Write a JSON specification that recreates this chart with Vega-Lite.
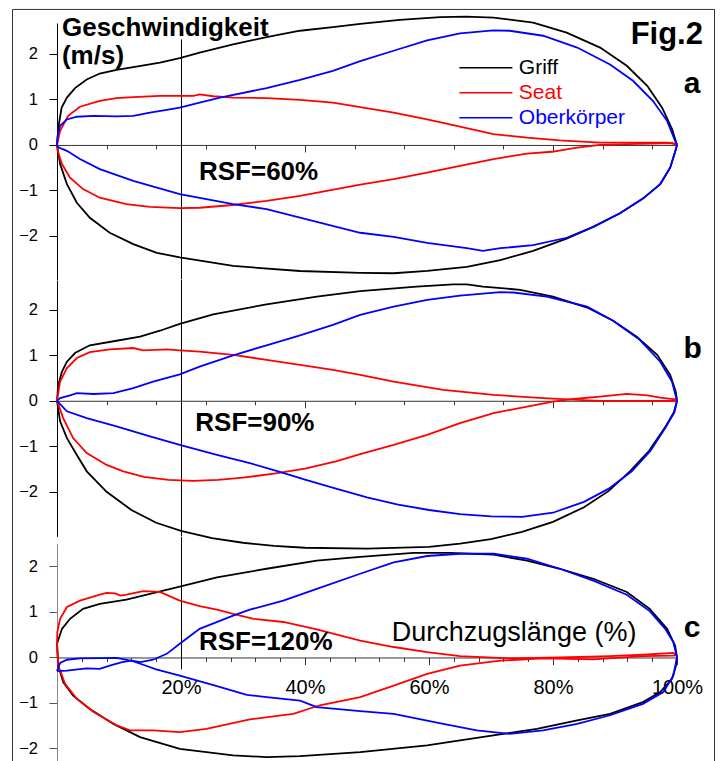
{
"$schema": "https://vega.github.io/schema/vega-lite/v6.json",
"background": "white",
"padding": {"left": 12, "top": 8, "right": 0, "bottom": 0},
"config": {"view": {"stroke": null}, "font": "Liberation Sans", "axis": {"labelFont": "Liberation Sans", "labelColor": "#000", "grid": false}, "legend": {"labelFont": "Liberation Sans"}},
"datasets": {
"a": [
{"s":"Griff","h":"d","x":0,"y":0},{"s":"Griff","h":"d","x":0.3,"y":0.45},{"s":"Griff","h":"d","x":0.75,"y":0.82},{"s":"Griff","h":"d","x":1.6,"y":1.04},{"s":"Griff","h":"d","x":2.9,"y":1.25},{"s":"Griff","h":"d","x":4.8,"y":1.44},{"s":"Griff","h":"d","x":6.9,"y":1.57},{"s":"Griff","h":"d","x":9.6,"y":1.65},{"s":"Griff","h":"d","x":12.3,"y":1.71},{"s":"Griff","h":"d","x":16.6,"y":1.81},{"s":"Griff","h":"d","x":19.8,"y":1.91},{"s":"Griff","h":"d","x":23,"y":2.03},{"s":"Griff","h":"d","x":28.4,"y":2.21},{"s":"Griff","h":"d","x":33.8,"y":2.37},{"s":"Griff","h":"d","x":39.2,"y":2.51},{"s":"Griff","h":"d","x":44.5,"y":2.59},{"s":"Griff","h":"d","x":48.9,"y":2.66},{"s":"Griff","h":"d","x":55.3,"y":2.75},{"s":"Griff","h":"d","x":61.8,"y":2.81},{"s":"Griff","h":"d","x":66,"y":2.82},{"s":"Griff","h":"d","x":70.4,"y":2.8},{"s":"Griff","h":"d","x":76.8,"y":2.69},{"s":"Griff","h":"d","x":82.2,"y":2.47},{"s":"Griff","h":"d","x":87.6,"y":2.14},{"s":"Griff","h":"d","x":91.9,"y":1.74},{"s":"Griff","h":"d","x":95.2,"y":1.3},{"s":"Griff","h":"d","x":97.6,"y":0.82},{"s":"Griff","h":"d","x":99.2,"y":0.35},{"s":"Griff","h":"d","x":100,"y":0},
{"s":"Griff","h":"r","x":0,"y":0},{"s":"Griff","h":"r","x":0.5,"y":-0.42},{"s":"Griff","h":"r","x":1.6,"y":-0.86},{"s":"Griff","h":"r","x":3.2,"y":-1.27},{"s":"Griff","h":"r","x":5.3,"y":-1.6},{"s":"Griff","h":"r","x":8.5,"y":-1.93},{"s":"Griff","h":"r","x":12.3,"y":-2.18},{"s":"Griff","h":"r","x":16.1,"y":-2.37},{"s":"Griff","h":"r","x":19.8,"y":-2.47},{"s":"Griff","h":"r","x":28.4,"y":-2.66},{"s":"Griff","h":"r","x":39.2,"y":-2.77},{"s":"Griff","h":"r","x":48.9,"y":-2.81},{"s":"Griff","h":"r","x":54.3,"y":-2.82},{"s":"Griff","h":"r","x":59.7,"y":-2.77},{"s":"Griff","h":"r","x":66.1,"y":-2.68},{"s":"Griff","h":"r","x":71.5,"y":-2.53},{"s":"Griff","h":"r","x":76.8,"y":-2.33},{"s":"Griff","h":"r","x":82.2,"y":-2.06},{"s":"Griff","h":"r","x":86.5,"y":-1.8},{"s":"Griff","h":"r","x":90.8,"y":-1.5},{"s":"Griff","h":"r","x":94.5,"y":-1.18},{"s":"Griff","h":"r","x":97.3,"y":-0.86},{"s":"Griff","h":"r","x":98.9,"y":-0.5},{"s":"Griff","h":"r","x":99.7,"y":-0.15},{"s":"Griff","h":"r","x":100,"y":0},
{"s":"Seat","h":"d","x":0,"y":0},{"s":"Seat","h":"d","x":0.5,"y":0.31},{"s":"Seat","h":"d","x":1.8,"y":0.64},{"s":"Seat","h":"d","x":3.7,"y":0.84},{"s":"Seat","h":"d","x":6.9,"y":0.97},{"s":"Seat","h":"d","x":9.6,"y":1.03},{"s":"Seat","h":"d","x":12.3,"y":1.05},{"s":"Seat","h":"d","x":16.6,"y":1.08},{"s":"Seat","h":"d","x":22,"y":1.08},{"s":"Seat","h":"d","x":23,"y":1.11},{"s":"Seat","h":"d","x":25.2,"y":1.07},{"s":"Seat","h":"d","x":28.4,"y":1.04},{"s":"Seat","h":"d","x":33.8,"y":1.03},{"s":"Seat","h":"d","x":39.2,"y":0.99},{"s":"Seat","h":"d","x":44.5,"y":0.93},{"s":"Seat","h":"d","x":48.9,"y":0.83},{"s":"Seat","h":"d","x":54.3,"y":0.71},{"s":"Seat","h":"d","x":59.7,"y":0.56},{"s":"Seat","h":"d","x":65,"y":0.4},{"s":"Seat","h":"d","x":70.4,"y":0.24},{"s":"Seat","h":"d","x":75.8,"y":0.16},{"s":"Seat","h":"d","x":81.1,"y":0.1},{"s":"Seat","h":"d","x":87.6,"y":0.05},{"s":"Seat","h":"d","x":94.5,"y":0.05},{"s":"Seat","h":"d","x":98.4,"y":0.05},{"s":"Seat","h":"d","x":99.4,"y":0.04},{"s":"Seat","h":"d","x":100,"y":0},
{"s":"Seat","h":"r","x":0,"y":0},{"s":"Seat","h":"r","x":0.1,"y":-0.13},{"s":"Seat","h":"r","x":0.8,"y":-0.42},{"s":"Seat","h":"r","x":2.1,"y":-0.72},{"s":"Seat","h":"r","x":4.2,"y":-0.97},{"s":"Seat","h":"r","x":6.9,"y":-1.16},{"s":"Seat","h":"r","x":11.2,"y":-1.3},{"s":"Seat","h":"r","x":15,"y":-1.36},{"s":"Seat","h":"r","x":19.8,"y":-1.39},{"s":"Seat","h":"r","x":23,"y":-1.38},{"s":"Seat","h":"r","x":28.4,"y":-1.32},{"s":"Seat","h":"r","x":33.8,"y":-1.23},{"s":"Seat","h":"r","x":39.2,"y":-1.12},{"s":"Seat","h":"r","x":48.9,"y":-0.87},{"s":"Seat","h":"r","x":54.3,"y":-0.75},{"s":"Seat","h":"r","x":59.7,"y":-0.61},{"s":"Seat","h":"r","x":65,"y":-0.46},{"s":"Seat","h":"r","x":70.4,"y":-0.31},{"s":"Seat","h":"r","x":75.8,"y":-0.19},{"s":"Seat","h":"r","x":79.8,"y":-0.15},{"s":"Seat","h":"r","x":83.9,"y":-0.06},{"s":"Seat","h":"r","x":87.6,"y":0},{"s":"Seat","h":"r","x":92,"y":0.02},{"s":"Seat","h":"r","x":96,"y":0.03},{"s":"Seat","h":"r","x":99,"y":0.04},{"s":"Seat","h":"r","x":100,"y":0},
{"s":"Oberkörper","h":"d","x":0,"y":0},{"s":"Oberkörper","h":"d","x":0.1,"y":0.2},{"s":"Oberkörper","h":"d","x":0.5,"y":0.42},{"s":"Oberkörper","h":"d","x":1.6,"y":0.56},{"s":"Oberkörper","h":"d","x":3.2,"y":0.62},{"s":"Oberkörper","h":"d","x":5.9,"y":0.64},{"s":"Oberkörper","h":"d","x":9.6,"y":0.63},{"s":"Oberkörper","h":"d","x":12.3,"y":0.64},{"s":"Oberkörper","h":"d","x":15,"y":0.71},{"s":"Oberkörper","h":"d","x":17.7,"y":0.77},{"s":"Oberkörper","h":"d","x":19.8,"y":0.82},{"s":"Oberkörper","h":"d","x":23,"y":0.93},{"s":"Oberkörper","h":"d","x":26.3,"y":1.04},{"s":"Oberkörper","h":"d","x":33.8,"y":1.25},{"s":"Oberkörper","h":"d","x":39.2,"y":1.43},{"s":"Oberkörper","h":"d","x":44.5,"y":1.63},{"s":"Oberkörper","h":"d","x":48.9,"y":1.84},{"s":"Oberkörper","h":"d","x":54.3,"y":2.07},{"s":"Oberkörper","h":"d","x":59.7,"y":2.3},{"s":"Oberkörper","h":"d","x":65,"y":2.45},{"s":"Oberkörper","h":"d","x":70.4,"y":2.52},{"s":"Oberkörper","h":"d","x":73,"y":2.51},{"s":"Oberkörper","h":"d","x":78.4,"y":2.4},{"s":"Oberkörper","h":"d","x":83.9,"y":2.14},{"s":"Oberkörper","h":"d","x":89.2,"y":1.77},{"s":"Oberkörper","h":"d","x":92.9,"y":1.41},{"s":"Oberkörper","h":"d","x":96.1,"y":0.97},{"s":"Oberkörper","h":"d","x":98.4,"y":0.53},{"s":"Oberkörper","h":"d","x":99.7,"y":0.09},{"s":"Oberkörper","h":"d","x":100,"y":0},
{"s":"Oberkörper","h":"r","x":0,"y":0},{"s":"Oberkörper","h":"r","x":0.2,"y":-0.05},{"s":"Oberkörper","h":"r","x":1.6,"y":-0.13},{"s":"Oberkörper","h":"r","x":3.7,"y":-0.31},{"s":"Oberkörper","h":"r","x":6.9,"y":-0.53},{"s":"Oberkörper","h":"r","x":12.3,"y":-0.79},{"s":"Oberkörper","h":"r","x":19.8,"y":-1.08},{"s":"Oberkörper","h":"r","x":28.4,"y":-1.3},{"s":"Oberkörper","h":"r","x":33.8,"y":-1.41},{"s":"Oberkörper","h":"r","x":39.2,"y":-1.6},{"s":"Oberkörper","h":"r","x":48.9,"y":-1.93},{"s":"Oberkörper","h":"r","x":54.3,"y":-2.02},{"s":"Oberkörper","h":"r","x":59.7,"y":-2.15},{"s":"Oberkörper","h":"r","x":66.1,"y":-2.27},{"s":"Oberkörper","h":"r","x":68.7,"y":-2.33},{"s":"Oberkörper","h":"r","x":71.5,"y":-2.27},{"s":"Oberkörper","h":"r","x":76.8,"y":-2.2},{"s":"Oberkörper","h":"r","x":82.2,"y":-2.04},{"s":"Oberkörper","h":"r","x":86.5,"y":-1.8},{"s":"Oberkörper","h":"r","x":90.8,"y":-1.5},{"s":"Oberkörper","h":"r","x":94.5,"y":-1.18},{"s":"Oberkörper","h":"r","x":97.3,"y":-0.86},{"s":"Oberkörper","h":"r","x":98.9,"y":-0.5},{"s":"Oberkörper","h":"r","x":99.7,"y":-0.15},{"s":"Oberkörper","h":"r","x":100,"y":0}
],
"b": [
{"s":"Griff","h":"d","x":0,"y":0},{"s":"Griff","h":"d","x":0.2,"y":0.35},{"s":"Griff","h":"d","x":0.8,"y":0.64},{"s":"Griff","h":"d","x":1.6,"y":0.86},{"s":"Griff","h":"d","x":2.9,"y":1.05},{"s":"Griff","h":"d","x":5.3,"y":1.22},{"s":"Griff","h":"d","x":9.6,"y":1.32},{"s":"Griff","h":"d","x":13.4,"y":1.41},{"s":"Griff","h":"d","x":16.6,"y":1.54},{"s":"Griff","h":"d","x":19.8,"y":1.69},{"s":"Griff","h":"d","x":25.2,"y":1.9},{"s":"Griff","h":"d","x":33.8,"y":2.12},{"s":"Griff","h":"d","x":41.9,"y":2.29},{"s":"Griff","h":"d","x":48.9,"y":2.41},{"s":"Griff","h":"d","x":58,"y":2.51},{"s":"Griff","h":"d","x":63.9,"y":2.56},{"s":"Griff","h":"d","x":66.1,"y":2.56},{"s":"Griff","h":"d","x":68.7,"y":2.51},{"s":"Griff","h":"d","x":74.7,"y":2.44},{"s":"Griff","h":"d","x":80,"y":2.29},{"s":"Griff","h":"d","x":85.5,"y":2.05},{"s":"Griff","h":"d","x":89.7,"y":1.76},{"s":"Griff","h":"d","x":93.5,"y":1.41},{"s":"Griff","h":"d","x":96.8,"y":1.01},{"s":"Griff","h":"d","x":98.9,"y":0.57},{"s":"Griff","h":"d","x":99.8,"y":0.2},{"s":"Griff","h":"d","x":100,"y":0},
{"s":"Griff","h":"r","x":0,"y":0},{"s":"Griff","h":"r","x":0.5,"y":-0.45},{"s":"Griff","h":"r","x":1.6,"y":-0.82},{"s":"Griff","h":"r","x":3.2,"y":-1.19},{"s":"Griff","h":"r","x":4.8,"y":-1.55},{"s":"Griff","h":"r","x":8,"y":-2},{"s":"Griff","h":"r","x":12,"y":-2.4},{"s":"Griff","h":"r","x":16,"y":-2.68},{"s":"Griff","h":"r","x":20,"y":-2.86},{"s":"Griff","h":"r","x":25,"y":-3.02},{"s":"Griff","h":"r","x":30,"y":-3.12},{"s":"Griff","h":"r","x":35,"y":-3.19},{"s":"Griff","h":"r","x":40,"y":-3.23},{"s":"Griff","h":"r","x":50,"y":-3.25},{"s":"Griff","h":"r","x":60,"y":-3.21},{"s":"Griff","h":"r","x":65,"y":-3.14},{"s":"Griff","h":"r","x":70,"y":-3.04},{"s":"Griff","h":"r","x":75,"y":-2.88},{"s":"Griff","h":"r","x":80,"y":-2.66},{"s":"Griff","h":"r","x":85,"y":-2.34},{"s":"Griff","h":"r","x":89,"y":-1.98},{"s":"Griff","h":"r","x":92.4,"y":-1.55},{"s":"Griff","h":"r","x":95.5,"y":-1.1},{"s":"Griff","h":"r","x":98,"y":-0.6},{"s":"Griff","h":"r","x":99.5,"y":-0.25},{"s":"Griff","h":"r","x":100,"y":0},
{"s":"Seat","h":"d","x":0,"y":0},{"s":"Seat","h":"d","x":0.5,"y":0.42},{"s":"Seat","h":"d","x":1.6,"y":0.72},{"s":"Seat","h":"d","x":3.2,"y":0.94},{"s":"Seat","h":"d","x":5.3,"y":1.07},{"s":"Seat","h":"d","x":8.5,"y":1.13},{"s":"Seat","h":"d","x":12.3,"y":1.16},{"s":"Seat","h":"d","x":13.9,"y":1.11},{"s":"Seat","h":"d","x":17.7,"y":1.13},{"s":"Seat","h":"d","x":19.8,"y":1.11},{"s":"Seat","h":"d","x":23,"y":1.08},{"s":"Seat","h":"d","x":28.4,"y":1.01},{"s":"Seat","h":"d","x":33.8,"y":0.9},{"s":"Seat","h":"d","x":39.2,"y":0.79},{"s":"Seat","h":"d","x":44.5,"y":0.68},{"s":"Seat","h":"d","x":48.9,"y":0.57},{"s":"Seat","h":"d","x":54.3,"y":0.42},{"s":"Seat","h":"d","x":62.3,"y":0.24},{"s":"Seat","h":"d","x":70.4,"y":0.13},{"s":"Seat","h":"d","x":78.4,"y":0.06},{"s":"Seat","h":"d","x":83.9,"y":0.02},{"s":"Seat","h":"d","x":87.6,"y":0},{"s":"Seat","h":"d","x":94.5,"y":0},{"s":"Seat","h":"d","x":100,"y":0},
{"s":"Seat","h":"r","x":0,"y":0},{"s":"Seat","h":"r","x":1,"y":-0.38},{"s":"Seat","h":"r","x":2.6,"y":-0.82},{"s":"Seat","h":"r","x":4.8,"y":-1.15},{"s":"Seat","h":"r","x":8,"y":-1.41},{"s":"Seat","h":"r","x":10.7,"y":-1.55},{"s":"Seat","h":"r","x":14,"y":-1.67},{"s":"Seat","h":"r","x":18,"y":-1.74},{"s":"Seat","h":"r","x":22,"y":-1.76},{"s":"Seat","h":"r","x":26,"y":-1.74},{"s":"Seat","h":"r","x":30,"y":-1.69},{"s":"Seat","h":"r","x":35,"y":-1.6},{"s":"Seat","h":"r","x":40,"y":-1.49},{"s":"Seat","h":"r","x":45,"y":-1.33},{"s":"Seat","h":"r","x":48.9,"y":-1.17},{"s":"Seat","h":"r","x":54.3,"y":-0.97},{"s":"Seat","h":"r","x":59.7,"y":-0.75},{"s":"Seat","h":"r","x":65,"y":-0.49},{"s":"Seat","h":"r","x":70.4,"y":-0.27},{"s":"Seat","h":"r","x":75.8,"y":-0.13},{"s":"Seat","h":"r","x":80,"y":-0.02},{"s":"Seat","h":"r","x":83.3,"y":0.04},{"s":"Seat","h":"r","x":87.6,"y":0.09},{"s":"Seat","h":"r","x":91.9,"y":0.15},{"s":"Seat","h":"r","x":95.2,"y":0.12},{"s":"Seat","h":"r","x":97.3,"y":0.07},{"s":"Seat","h":"r","x":99.7,"y":0.03},{"s":"Seat","h":"r","x":100,"y":0},
{"s":"Oberkörper","h":"d","x":0,"y":0},{"s":"Oberkörper","h":"d","x":0.5,"y":0.06},{"s":"Oberkörper","h":"d","x":2.1,"y":0.12},{"s":"Oberkörper","h":"d","x":3.2,"y":0.17},{"s":"Oberkörper","h":"d","x":5.9,"y":0.15},{"s":"Oberkörper","h":"d","x":9.1,"y":0.17},{"s":"Oberkörper","h":"d","x":12.3,"y":0.28},{"s":"Oberkörper","h":"d","x":15.5,"y":0.42},{"s":"Oberkörper","h":"d","x":19.8,"y":0.58},{"s":"Oberkörper","h":"d","x":23,"y":0.75},{"s":"Oberkörper","h":"d","x":28.4,"y":1},{"s":"Oberkörper","h":"d","x":33.8,"y":1.22},{"s":"Oberkörper","h":"d","x":39.2,"y":1.44},{"s":"Oberkörper","h":"d","x":44.5,"y":1.67},{"s":"Oberkörper","h":"d","x":48.9,"y":1.89},{"s":"Oberkörper","h":"d","x":54.3,"y":2.07},{"s":"Oberkörper","h":"d","x":59.7,"y":2.22},{"s":"Oberkörper","h":"d","x":65,"y":2.31},{"s":"Oberkörper","h":"d","x":71.5,"y":2.39},{"s":"Oberkörper","h":"d","x":73.6,"y":2.38},{"s":"Oberkörper","h":"d","x":79,"y":2.29},{"s":"Oberkörper","h":"d","x":85.5,"y":2.07},{"s":"Oberkörper","h":"d","x":89.7,"y":1.76},{"s":"Oberkörper","h":"d","x":94,"y":1.34},{"s":"Oberkörper","h":"d","x":97.3,"y":0.86},{"s":"Oberkörper","h":"d","x":99.2,"y":0.42},{"s":"Oberkörper","h":"d","x":100,"y":0},
{"s":"Oberkörper","h":"r","x":0,"y":0},{"s":"Oberkörper","h":"r","x":1.6,"y":-0.23},{"s":"Oberkörper","h":"r","x":4.8,"y":-0.38},{"s":"Oberkörper","h":"r","x":9.6,"y":-0.56},{"s":"Oberkörper","h":"r","x":15,"y":-0.78},{"s":"Oberkörper","h":"r","x":19.8,"y":-0.97},{"s":"Oberkörper","h":"r","x":25.8,"y":-1.19},{"s":"Oberkörper","h":"r","x":31.1,"y":-1.37},{"s":"Oberkörper","h":"r","x":35.4,"y":-1.54},{"s":"Oberkörper","h":"r","x":40,"y":-1.73},{"s":"Oberkörper","h":"r","x":45,"y":-1.93},{"s":"Oberkörper","h":"r","x":50,"y":-2.12},{"s":"Oberkörper","h":"r","x":55,"y":-2.28},{"s":"Oberkörper","h":"r","x":60,"y":-2.4},{"s":"Oberkörper","h":"r","x":65,"y":-2.49},{"s":"Oberkörper","h":"r","x":70,"y":-2.54},{"s":"Oberkörper","h":"r","x":75,"y":-2.55},{"s":"Oberkörper","h":"r","x":80,"y":-2.46},{"s":"Oberkörper","h":"r","x":85,"y":-2.22},{"s":"Oberkörper","h":"r","x":89,"y":-1.93},{"s":"Oberkörper","h":"r","x":92.7,"y":-1.55},{"s":"Oberkörper","h":"r","x":95.7,"y":-1.1},{"s":"Oberkörper","h":"r","x":98.1,"y":-0.6},{"s":"Oberkörper","h":"r","x":99.6,"y":-0.25},{"s":"Oberkörper","h":"r","x":100,"y":0}
],
"c": [
{"s":"Griff","h":"d","x":0,"y":0.3},{"s":"Griff","h":"d","x":0.8,"y":0.63},{"s":"Griff","h":"d","x":2.1,"y":0.85},{"s":"Griff","h":"d","x":4.2,"y":1.07},{"s":"Griff","h":"d","x":6.9,"y":1.18},{"s":"Griff","h":"d","x":11.2,"y":1.27},{"s":"Griff","h":"d","x":15,"y":1.4},{"s":"Griff","h":"d","x":19.8,"y":1.56},{"s":"Griff","h":"d","x":25.8,"y":1.76},{"s":"Griff","h":"d","x":33.8,"y":1.95},{"s":"Griff","h":"d","x":41.9,"y":2.13},{"s":"Griff","h":"d","x":48.9,"y":2.21},{"s":"Griff","h":"d","x":57.5,"y":2.3},{"s":"Griff","h":"d","x":63.4,"y":2.3},{"s":"Griff","h":"d","x":70.4,"y":2.26},{"s":"Griff","h":"d","x":75.8,"y":2.13},{"s":"Griff","h":"d","x":81.1,"y":1.95},{"s":"Griff","h":"d","x":86.5,"y":1.73},{"s":"Griff","h":"d","x":91.9,"y":1.44},{"s":"Griff","h":"d","x":95.6,"y":1.07},{"s":"Griff","h":"d","x":98.4,"y":0.63},{"s":"Griff","h":"d","x":99.7,"y":0.26},{"s":"Griff","h":"d","x":100,"y":0},
{"s":"Griff","h":"r","x":0,"y":0.3},{"s":"Griff","h":"r","x":0.2,"y":-0.18},{"s":"Griff","h":"r","x":1,"y":-0.54},{"s":"Griff","h":"r","x":2.6,"y":-0.84},{"s":"Griff","h":"r","x":5.3,"y":-1.13},{"s":"Griff","h":"r","x":9.1,"y":-1.46},{"s":"Griff","h":"r","x":13.4,"y":-1.75},{"s":"Griff","h":"r","x":19.8,"y":-2.01},{"s":"Griff","h":"r","x":28.4,"y":-2.15},{"s":"Griff","h":"r","x":33.8,"y":-2.19},{"s":"Griff","h":"r","x":39.2,"y":-2.17},{"s":"Griff","h":"r","x":48.9,"y":-2.08},{"s":"Griff","h":"r","x":59.7,"y":-1.93},{"s":"Griff","h":"r","x":65,"y":-1.82},{"s":"Griff","h":"r","x":72,"y":-1.68},{"s":"Griff","h":"r","x":77.4,"y":-1.57},{"s":"Griff","h":"r","x":83.9,"y":-1.38},{"s":"Griff","h":"r","x":89.2,"y":-1.24},{"s":"Griff","h":"r","x":94.5,"y":-0.98},{"s":"Griff","h":"r","x":97.3,"y":-0.76},{"s":"Griff","h":"r","x":99.2,"y":-0.47},{"s":"Griff","h":"r","x":99.8,"y":-0.2},{"s":"Griff","h":"r","x":100,"y":0},
{"s":"Seat","h":"d","x":0,"y":0.3},{"s":"Seat","h":"d","x":0.05,"y":0.56},{"s":"Seat","h":"d","x":0.5,"y":0.85},{"s":"Seat","h":"d","x":1.6,"y":1.11},{"s":"Seat","h":"d","x":3.7,"y":1.25},{"s":"Seat","h":"d","x":6.9,"y":1.38},{"s":"Seat","h":"d","x":8,"y":1.42},{"s":"Seat","h":"d","x":9.4,"y":1.41},{"s":"Seat","h":"d","x":10.2,"y":1.36},{"s":"Seat","h":"d","x":11.2,"y":1.38},{"s":"Seat","h":"d","x":13.9,"y":1.46},{"s":"Seat","h":"d","x":16.6,"y":1.44},{"s":"Seat","h":"d","x":19.8,"y":1.25},{"s":"Seat","h":"d","x":23,"y":1.13},{"s":"Seat","h":"d","x":25.8,"y":1.05},{"s":"Seat","h":"d","x":28.4,"y":0.96},{"s":"Seat","h":"d","x":31.7,"y":0.85},{"s":"Seat","h":"d","x":36.5,"y":0.78},{"s":"Seat","h":"d","x":41.9,"y":0.62},{"s":"Seat","h":"d","x":48.9,"y":0.37},{"s":"Seat","h":"d","x":54.3,"y":0.23},{"s":"Seat","h":"d","x":59.7,"y":0.12},{"s":"Seat","h":"d","x":65,"y":0.03},{"s":"Seat","h":"d","x":73,"y":-0.02},{"s":"Seat","h":"d","x":81.1,"y":0},{"s":"Seat","h":"d","x":89.2,"y":0.03},{"s":"Seat","h":"d","x":94.5,"y":0.06},{"s":"Seat","h":"d","x":99.4,"y":0.1},{"s":"Seat","h":"d","x":100,"y":0.05},
{"s":"Seat","h":"r","x":0,"y":0.3},{"s":"Seat","h":"r","x":0.2,"y":-0.18},{"s":"Seat","h":"r","x":1.3,"y":-0.58},{"s":"Seat","h":"r","x":3.2,"y":-0.91},{"s":"Seat","h":"r","x":5.9,"y":-1.2},{"s":"Seat","h":"r","x":9.6,"y":-1.49},{"s":"Seat","h":"r","x":11.8,"y":-1.6},{"s":"Seat","h":"r","x":15.5,"y":-1.6},{"s":"Seat","h":"r","x":19.8,"y":-1.64},{"s":"Seat","h":"r","x":24.1,"y":-1.57},{"s":"Seat","h":"r","x":31.1,"y":-1.36},{"s":"Seat","h":"r","x":38.1,"y":-1.24},{"s":"Seat","h":"r","x":42.4,"y":-1.05},{"s":"Seat","h":"r","x":48.9,"y":-0.87},{"s":"Seat","h":"r","x":54.3,"y":-0.62},{"s":"Seat","h":"r","x":59.7,"y":-0.36},{"s":"Seat","h":"r","x":65,"y":-0.18},{"s":"Seat","h":"r","x":71.5,"y":-0.07},{"s":"Seat","h":"r","x":78.4,"y":-0.02},{"s":"Seat","h":"r","x":86.5,"y":-0.04},{"s":"Seat","h":"r","x":94.5,"y":0.03},{"s":"Seat","h":"r","x":99.4,"y":0.04},{"s":"Seat","h":"r","x":100,"y":0.05},
{"s":"Oberkörper","h":"d","x":0,"y":-0.3},{"s":"Oberkörper","h":"d","x":0.5,"y":-0.12},{"s":"Oberkörper","h":"d","x":1.6,"y":-0.05},{"s":"Oberkörper","h":"d","x":3.7,"y":-0.02},{"s":"Oberkörper","h":"d","x":9.6,"y":-0.01},{"s":"Oberkörper","h":"d","x":11.5,"y":-0.06},{"s":"Oberkörper","h":"d","x":13.5,"y":-0.1},{"s":"Oberkörper","h":"d","x":15.5,"y":-0.05},{"s":"Oberkörper","h":"d","x":17.7,"y":0.08},{"s":"Oberkörper","h":"d","x":19.8,"y":0.3},{"s":"Oberkörper","h":"d","x":23,"y":0.63},{"s":"Oberkörper","h":"d","x":28.4,"y":0.92},{"s":"Oberkörper","h":"d","x":31.1,"y":1.05},{"s":"Oberkörper","h":"d","x":36.5,"y":1.25},{"s":"Oberkörper","h":"d","x":41.9,"y":1.51},{"s":"Oberkörper","h":"d","x":48.9,"y":1.84},{"s":"Oberkörper","h":"d","x":54.3,"y":2.09},{"s":"Oberkörper","h":"d","x":59.7,"y":2.23},{"s":"Oberkörper","h":"d","x":65,"y":2.28},{"s":"Oberkörper","h":"d","x":70.4,"y":2.28},{"s":"Oberkörper","h":"d","x":75.8,"y":2.17},{"s":"Oberkörper","h":"d","x":81.1,"y":1.95},{"s":"Oberkörper","h":"d","x":86.5,"y":1.69},{"s":"Oberkörper","h":"d","x":91.9,"y":1.38},{"s":"Oberkörper","h":"d","x":95.6,"y":1.02},{"s":"Oberkörper","h":"d","x":98.1,"y":0.63},{"s":"Oberkörper","h":"d","x":99.4,"y":0.34},{"s":"Oberkörper","h":"d","x":100,"y":0},
{"s":"Oberkörper","h":"r","x":0,"y":-0.3},{"s":"Oberkörper","h":"r","x":1.6,"y":-0.29},{"s":"Oberkörper","h":"r","x":4.8,"y":-0.24},{"s":"Oberkörper","h":"r","x":6.9,"y":-0.25},{"s":"Oberkörper","h":"r","x":8.5,"y":-0.18},{"s":"Oberkörper","h":"r","x":10.5,"y":-0.1},{"s":"Oberkörper","h":"r","x":12,"y":-0.07},{"s":"Oberkörper","h":"r","x":13.9,"y":-0.16},{"s":"Oberkörper","h":"r","x":16,"y":-0.26},{"s":"Oberkörper","h":"r","x":19.8,"y":-0.4},{"s":"Oberkörper","h":"r","x":25.8,"y":-0.63},{"s":"Oberkörper","h":"r","x":30.6,"y":-0.82},{"s":"Oberkörper","h":"r","x":33.8,"y":-0.87},{"s":"Oberkörper","h":"r","x":39.2,"y":-0.95},{"s":"Oberkörper","h":"r","x":41.9,"y":-1.09},{"s":"Oberkörper","h":"r","x":48.9,"y":-1.18},{"s":"Oberkörper","h":"r","x":54.3,"y":-1.24},{"s":"Oberkörper","h":"r","x":62.3,"y":-1.46},{"s":"Oberkörper","h":"r","x":67.7,"y":-1.6},{"s":"Oberkörper","h":"r","x":73,"y":-1.68},{"s":"Oberkörper","h":"r","x":78.4,"y":-1.6},{"s":"Oberkörper","h":"r","x":83.9,"y":-1.46},{"s":"Oberkörper","h":"r","x":89.2,"y":-1.27},{"s":"Oberkörper","h":"r","x":94.5,"y":-1.02},{"s":"Oberkörper","h":"r","x":97.8,"y":-0.76},{"s":"Oberkörper","h":"r","x":99.4,"y":-0.4},{"s":"Oberkörper","h":"r","x":100,"y":0}
]
},
"resolve": {"scale": {"color": "independent"}},
"bounds": "flush",
"spacing": 0,
"vconcat": [
{
"width": 620, "height": 256.44,
"layer": [
{"data": {"values": [{}]}, "mark": {"type": "rule", "color": "#333", "strokeWidth": 1}, "encoding": {"x": {"datum": -7.177, "type": "quantitative"}, "y": {"datum": 2.978, "type": "quantitative"}, "y2": {"datum": -13.56}}},
{"data": {"values": [{}]}, "mark": {"type": "rule", "color": "#333", "strokeWidth": 1}, "encoding": {"x": {"datum": -7.177, "type": "quantitative"}, "x2": {"datum": 106.05}, "y": {"datum": 2.978, "type": "quantitative"}}},
{"data": {"values": [{}]}, "mark": {"type": "rule", "color": "#333", "strokeWidth": 1}, "encoding": {"x": {"datum": 106.05, "type": "quantitative"}, "y": {"datum": 2.978, "type": "quantitative"}, "y2": {"datum": -13.56}}},
{"data": {"values": [{}]}, "mark": {"type": "rule", "color": "#000", "strokeWidth": 1}, "encoding": {"x": {"datum": 20.08, "type": "quantitative"}, "y": {"datum": 2.32, "type": "quantitative"}, "y2": {"datum": -2.956}}},
{"data": {"name": "a"}, "mark": {"type": "line", "strokeWidth": 1.8},
 "encoding": {
  "x": {"field": "x", "type": "quantitative", "scale": {"domain": [0, 100], "nice": false, "zero": false}, "axis": {"values": [0,4,8,12,16,20,24,28,32,36,40,44,48,52,56,60,64,68,72,76,80,84,88,92,96,100], "orient": "bottom", "offset": -134.5, "title": null, "labels": false, "domainColor": "#333", "tickColor": "#333", "tickSize": {"condition": {"test": "datum.value % 20 === 0", "value": 7}, "value": 4}}},
  "y": {"field": "y", "type": "quantitative", "scale": {"domain": [-2.956, 2.68], "nice": false, "zero": false}, "axis": {"values": [-2,-1,0,1,2], "title": null, "domainColor": "#000", "tickColor": "#000", "tickSize": 8, "labelFontSize": 16.5, "labelPadding": 11.5}},
  "color": {"field": "s", "type": "nominal", "scale": {"domain": ["Griff", "Seat", "Oberkörper"], "range": ["#000000", "#ff0000", "#0000ff"]},
   "legend": {"orient": "none", "legendX": 418.4, "legendY": 34.2, "title": null, "padding": 0, "symbolType": "M-4,0H4", "symbolSize": 175.6, "symbolStrokeWidth": 1.5, "labelFontSize": 21, "labelOffset": 22.4, "rowPadding": 3,
    "encode": {"labels": {"update": {"fill": {"signal": "datum.value === 'Seat' ? '#ff0000' : datum.value === 'Oberkörper' ? '#0000ff' : '#000000'"}}}}}},
  "detail": {"field": "h", "type": "nominal"}
 }},
{"data": {"values": [{}]}, "mark": {"type": "text", "text": "Geschwindigkeit", "fontSize": 26, "fontWeight": "bold", "align": "left", "baseline": "alphabetic"}, "encoding": {"x": {"datum": 0.8, "type": "quantitative"}, "y": {"datum": 2.396, "type": "quantitative"}}},
{"data": {"values": [{}]}, "mark": {"type": "text", "text": "(m/s)", "fontSize": 26, "fontWeight": "bold", "align": "left", "baseline": "alphabetic"}, "encoding": {"x": {"datum": 0.8, "type": "quantitative"}, "y": {"datum": 1.78, "type": "quantitative"}}},
{"data": {"values": [{}]}, "mark": {"type": "text", "text": "Fig.2", "fontSize": 31, "fontWeight": "bold", "align": "right", "baseline": "alphabetic"}, "encoding": {"x": {"datum": 104.19, "type": "quantitative"}, "y": {"datum": 2.22, "type": "quantitative"}}},
{"data": {"values": [{}]}, "mark": {"type": "text", "text": "a", "fontSize": 30, "fontWeight": "bold", "align": "right", "baseline": "alphabetic"}, "encoding": {"x": {"datum": 103.8, "type": "quantitative"}, "y": {"datum": 1.143, "type": "quantitative"}}},
{"data": {"values": [{}]}, "mark": {"type": "text", "text": "RSF=60%", "fontSize": 26, "fontWeight": "bold", "align": "left", "baseline": "alphabetic"}, "encoding": {"x": {"datum": 22.9, "type": "quantitative"}, "y": {"datum": -0.77, "type": "quantitative"}}}
]
},
{
"width": 620, "height": 256.39,
"layer": [
{"data": {"values": [{}]}, "mark": {"type": "rule", "color": "#000", "strokeWidth": 1}, "encoding": {"x": {"datum": 20.08, "type": "quantitative"}, "y": {"datum": 2.655, "type": "quantitative"}, "y2": {"datum": -2.98}}},
{"data": {"name": "b"}, "mark": {"type": "line", "strokeWidth": 1.8},
 "encoding": {
  "x": {"field": "x", "type": "quantitative", "scale": {"domain": [0, 100], "nice": false, "zero": false}, "axis": {"values": [0,4,8,12,16,20,24,28,32,36,40,44,48,52,56,60,64,68,72,76,80,84,88,92,96,100], "orient": "bottom", "offset": -135.6, "title": null, "labels": false, "domainColor": "#333", "tickColor": "#333", "tickSize": {"condition": {"test": "datum.value % 20 === 0", "value": 7}, "value": 4}}},
  "y": {"field": "y", "type": "quantitative", "scale": {"domain": [-2.98, 2.655], "nice": false, "zero": false}, "axis": {"values": [-2,-1,0,1,2], "title": null, "domainColor": "#000", "tickColor": "#000", "tickSize": 8, "labelFontSize": 16.5, "labelPadding": 11.5}},
  "color": {"field": "s", "type": "nominal", "scale": {"domain": ["Griff", "Seat", "Oberkörper"], "range": ["#000000", "#ff0000", "#0000ff"]}, "legend": null},
  "detail": {"field": "h", "type": "nominal"}
 }},
{"data": {"values": [{}]}, "mark": {"type": "text", "text": "b", "fontSize": 30, "fontWeight": "bold", "align": "right", "baseline": "alphabetic"}, "encoding": {"x": {"datum": 104.0, "type": "quantitative"}, "y": {"datum": 0.95, "type": "quantitative"}}},
{"data": {"values": [{}]}, "mark": {"type": "text", "text": "RSF=90%", "fontSize": 26, "fontWeight": "bold", "align": "left", "baseline": "alphabetic"}, "encoding": {"x": {"datum": 22.3, "type": "quantitative"}, "y": {"datum": -0.67, "type": "quantitative"}}}
]
},
{
"width": 620, "height": 226.17,
"resolve": {"axis": {"x": "independent"}},
"layer": [
{"data": {"values": [{}]}, "mark": {"type": "rule", "color": "#888", "strokeWidth": 1}, "encoding": {"x": {"datum": 0.08, "type": "quantitative", "axis": null}, "y": {"datum": 2.49, "type": "quantitative"}, "y2": {"datum": -2.323}}},
{"data": {"values": [{}]}, "mark": {"type": "rule", "color": "#000", "strokeWidth": 1}, "encoding": {"x": {"datum": 20.08, "type": "quantitative", "axis": null}, "y": {"datum": 2.648, "type": "quantitative"}, "y2": {"datum": -0.26}}},
{"data": {"name": "c"}, "mark": {"type": "line", "strokeWidth": 1.8},
 "encoding": {
  "x": {"field": "x", "type": "quantitative", "scale": {"domain": [0, 100], "nice": false, "zero": false}, "axis": {"values": [0,4,8,12,16,20,24,28,32,36,40,44,48,52,56,60,64,68,72,76,80,84,88,92,96,100], "orient": "bottom", "offset": -105.7, "title": null, "labels": false, "domainColor": "#333", "tickColor": "#333", "tickSize": {"condition": {"test": "datum.value % 20 === 0", "value": 7}, "value": 4}}},
  "y": {"field": "y", "type": "quantitative", "scale": {"domain": [-2.323, 2.648], "nice": false, "zero": false}, "axis": {"values": [-2,-1,0,1,2], "title": null, "domain": false, "tickColor": "#555", "tickSize": 8, "labelFontSize": 16.5, "labelPadding": 11.5}},
  "color": {"field": "s", "type": "nominal", "scale": {"domain": ["Griff", "Seat", "Oberkörper"], "range": ["#000000", "#ff0000", "#0000ff"]}, "legend": null},
  "detail": {"field": "h", "type": "nominal"}
 }},
{"data": {"values": [{}]}, "mark": {"type": "text", "text": "c", "fontSize": 30, "fontWeight": "bold", "align": "right", "baseline": "alphabetic"}, "encoding": {"x": {"datum": 103.8, "type": "quantitative", "axis": null}, "y": {"datum": 0.446, "type": "quantitative"}}},
{"data": {"values": [{}]}, "mark": {"type": "text", "text": "RSF=120%", "fontSize": 26, "fontWeight": "bold", "align": "left", "baseline": "alphabetic"}, "encoding": {"x": {"datum": 22.9, "type": "quantitative", "axis": null}, "y": {"datum": 0.16, "type": "quantitative"}}},
{"data": {"values": [{}]}, "mark": {"type": "text", "text": "Durchzugslänge (%)", "fontSize": 27, "align": "left", "baseline": "alphabetic"}, "encoding": {"x": {"datum": 54.0, "type": "quantitative", "axis": {"values": [20,40,60,80,100], "orient": "bottom", "offset": -105.7, "title": null, "domain": false, "tickColor": "#333", "tickSize": 7, "labelExpr": "datum.value + '%'", "labelFontSize": 20, "labelPadding": 13, "labelOverlap": false, "labelFlush": false}}, "y": {"datum": 0.37, "type": "quantitative"}}}
]
}
]
}
